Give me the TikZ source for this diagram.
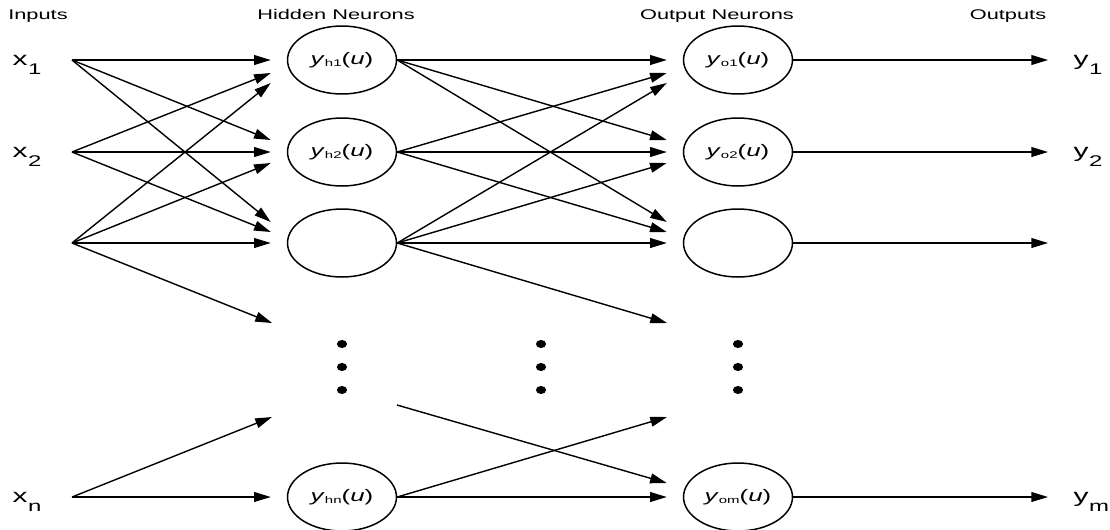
\documentclass[tikz,border=0pt]{standalone}
\usepackage{fontspec}
\setmainfont[FakeStretch=1.55]{Liberation Sans}
\usetikzlibrary{positioning, shapes.geometric, arrows.meta, calc}

\newcommand{\lowsub}[1]{\hspace{0.3pt}\raisebox{-5.5pt}{\fontsize{8.8}{9}\selectfont #1}}
\newcommand{\actfn}[2]{\textit{#1}\raisebox{-1.5pt}{\fontsize{5.5}{6}\selectfont #2}(\textit{u})}

\begin{document}
\begin{tikzpicture}[x=0.02cm, y=-0.02cm, line width=0.8pt,
  neuron/.style={ellipse, draw, line width=0.85pt, minimum width=2.18cm, minimum height=1.36cm, inner sep=0pt, font=\fontsize{9.5}{10}\selectfont},
  conn/.style={-{Triangle[length=9.5pt, width=5.6pt]}},
  title/.style={anchor=base, inner sep=0pt, font=\fontsize{8}{9}\selectfont},
  iolabel/.style={anchor=base west, inner sep=0pt, font=\fontsize{11}{12}\selectfont}]
  \useasboundingbox (0,0) rectangle (1110,529);

  % column titles
  \node[title] (tin) at (38,19) {Inputs};
  \node[title] (thid) at (336,19) {Hidden Neurons};
  \node[title] (tout) at (717,19) {Output Neurons};
  \node[title] (tres) at (1008,19) {Outputs};

  % inputs
  \coordinate (x1) at (72,60);
  \coordinate (x2) at (72,152);
  \coordinate (x3) at (72,243);
  \coordinate (xn) at (72,497);
  \node[iolabel] (lx1) at (12,65) {x\lowsub{1}};
  \node[iolabel] (lx2) at (12,157) {x\lowsub{2}};
  \node[iolabel] (lxn) at (12,502) {x\lowsub{n}};

  % hidden layer
  \node[neuron] (h1) at (342,60) {\actfn{y}{h1}};
  \node[neuron] (h2) at (342,152) {\actfn{y}{h2}};
  \node[neuron] (h3) at (342,243) {};
  \node[neuron] (hn) at (342,497) {\actfn{y}{hn}};

  % output layer
  \node[neuron] (o1) at (738,60) {\actfn{y}{o1}};
  \node[neuron] (o2) at (738,152) {\actfn{y}{o2}};
  \node[neuron] (o3) at (738,243) {};
  \node[neuron] (om) at (738,497) {\actfn{y}{om}};

  % dots
  \foreach \cx in {342,541,738}{
    \foreach \cy in {344,367,390}{
      \fill (\cx,\cy) ellipse [x radius=2.9pt, y radius=2.3pt];
    }
  }

  % free ends in the gap
  \coordinate (hd1) at (272,323);
  \coordinate (hd2) at (272,417);
  \coordinate (od1) at (667,323);
  \coordinate (od2) at (667,417);
  \coordinate (hs) at (397,405);

  % inputs -> hidden
  \foreach \src/\dst/\dy in {x1/h1/0, x2/h1/13, x3/h1/23, x1/h2/-12, x2/h2/0, x3/h2/11, x1/h3/-21, x2/h3/-11, x3/h3/0}{
    \draw[conn] (\src) -- ($(\dst.west)+(-16,\dy)$);
  }
  \draw[conn] (x3) -- (hd1);
  \draw[conn] (xn) -- (hd2);
  \draw[conn] (xn) -- ($(hn.west)+(-16,0)$);

  % hidden -> output
  \foreach \src/\dst/\dy in {h1/o1/0, h2/o1/13, h3/o1/23, h1/o2/-12, h2/o2/0, h3/o2/11, h1/o3/-21, h2/o3/-11, h3/o3/0}{
    \draw[conn] (\src.east) -- ($(\dst.west)+(-16,\dy)$);
  }
  \draw[conn] (h3.east) -- (od1);
  \draw[conn] (hn.east) -- (od2);
  \draw[conn] (hn.east) -- ($(om.west)+(-16,0)$);
  \draw[conn] (hs) -- ($(om.west)+(-16,-14)$);

  % outputs
  \coordinate (e1) at (1048,60);
  \coordinate (e2) at (1048,152);
  \coordinate (e3) at (1048,243);
  \coordinate (em) at (1048,497);
  \foreach \o/\e in {o1/e1, o2/e2, o3/e3, om/em}{
    \draw[conn] (\o.east) -- (\e);
  }
  \node[iolabel] (ly1) at (1073,65) {y\lowsub{1}};
  \node[iolabel] (ly2) at (1073,157) {y\lowsub{2}};
  \node[iolabel] (lym) at (1073,502) {y\lowsub{m}};
\end{tikzpicture}
\end{document}
